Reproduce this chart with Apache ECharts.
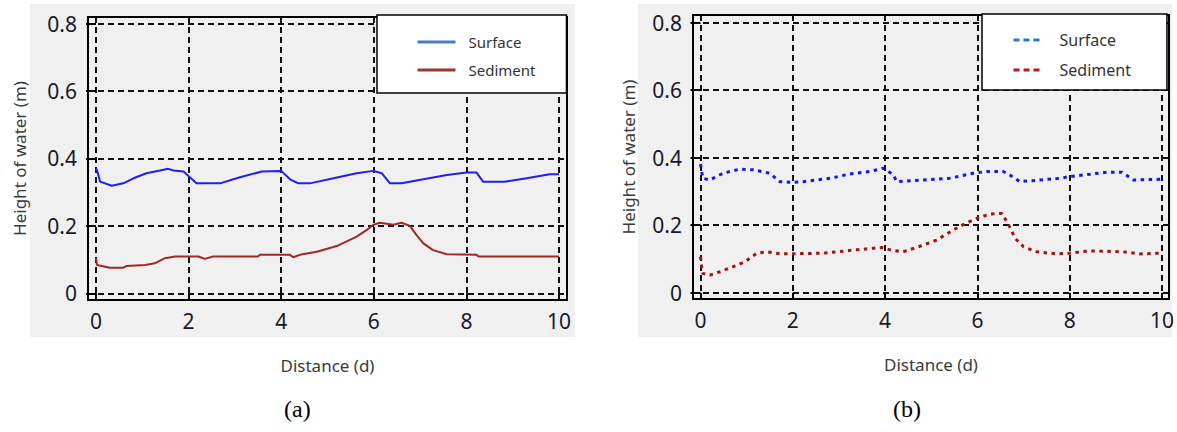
<!DOCTYPE html>
<html>
<head>
<meta charset="utf-8">
<script src="https://cdn.jsdelivr.net/npm/echarts@6/dist/echarts.min.js"></script>
<style>
  html, body { margin: 0; padding: 0; background: #ffffff; }
  #chart { width: 1177px; height: 432px; }
</style>
</head>
<body>
<div id="chart"></div>
<script>
// Tick positions shared by both panels
const xTicks = [0, 2, 4, 6, 8, 10];
const yTicks = [0, 0.2, 0.4, 0.6, 0.8];

// Panel (a): continuous profiles [distance, height]
const surfaceA = [
  [0, 0.371], [0.03, 0.361], [0.09, 0.331], [0.34, 0.319], [0.59, 0.326], [0.81, 0.341],
  [1.09, 0.356], [1.38, 0.364], [1.56, 0.369], [1.67, 0.364], [1.89, 0.361], [2.17, 0.326],
  [2.68, 0.326], [3.11, 0.344], [3.58, 0.361], [4.0, 0.363], [4.19, 0.338], [4.37, 0.326],
  [4.62, 0.326], [5.13, 0.341], [5.63, 0.356], [5.99, 0.363], [6.17, 0.356], [6.35, 0.326],
  [6.6, 0.326], [7.07, 0.338], [7.58, 0.351], [8.0, 0.358], [8.22, 0.358], [8.36, 0.331],
  [8.83, 0.331], [9.3, 0.341], [9.8, 0.353], [10.0, 0.353]
];
const sedimentA = [
  [0, 0.104], [0.02, 0.084], [0.3, 0.076], [0.59, 0.076], [0.66, 0.081], [1.06, 0.084],
  [1.27, 0.089], [1.49, 0.104], [1.71, 0.109], [2.21, 0.109], [2.35, 0.102], [2.53, 0.109],
  [3.5, 0.109], [3.54, 0.114], [4.19, 0.114], [4.26, 0.107], [4.4, 0.114], [4.77, 0.123],
  [5.2, 0.14], [5.63, 0.168], [5.85, 0.188], [5.99, 0.203], [6.13, 0.209], [6.42, 0.203],
  [6.6, 0.209], [6.78, 0.2], [6.92, 0.173], [7.07, 0.148], [7.28, 0.128], [7.58, 0.116],
  [8.22, 0.114], [8.26, 0.109], [10.0, 0.109]
];

// Panel (b): dotted profiles [distance, height]
const surfaceB = [
  [0, 0.381], [0.02, 0.364], [0.05, 0.339], [0.2, 0.334], [0.49, 0.354], [0.85, 0.366],
  [1.14, 0.364], [1.5, 0.354], [1.72, 0.329], [2.0, 0.327], [2.23, 0.329], [2.81, 0.339],
  [3.24, 0.352], [3.67, 0.359], [3.96, 0.369], [4.07, 0.359], [4.18, 0.349], [4.25, 0.329],
  [4.83, 0.334], [5.4, 0.339], [5.91, 0.354], [6.2, 0.359], [6.56, 0.359], [6.7, 0.349],
  [6.92, 0.329], [7.36, 0.334], [7.79, 0.339], [8.0, 0.344], [8.44, 0.351], [8.8, 0.357],
  [9.13, 0.357], [9.38, 0.334], [9.96, 0.336]
];
const sedimentB = [
  [0, 0.107], [0.02, 0.082], [0.05, 0.057], [0.2, 0.052], [0.42, 0.062], [0.71, 0.077],
  [0.97, 0.092], [1.22, 0.117], [1.44, 0.121], [1.72, 0.115], [2.66, 0.117], [3.38, 0.127],
  [3.93, 0.134], [4.11, 0.127], [4.39, 0.121], [4.68, 0.134], [5.12, 0.156], [5.48, 0.186],
  [5.77, 0.207], [5.99, 0.22], [6.27, 0.233], [6.53, 0.235], [6.68, 0.2], [6.82, 0.161],
  [7.0, 0.136], [7.29, 0.121], [7.72, 0.115], [8.0, 0.117], [8.44, 0.124], [9.16, 0.121],
  [9.52, 0.115], [9.96, 0.117]
];

const seriesNames = ['Surface', 'Sediment'];
const panelLabels = ['(a)', '(b)'];
const xName = 'Distance (d)';
const yName = 'Height of water (m)';

const chart = echarts.init(document.getElementById('chart'), null, { renderer: 'svg' });

const gridLine = { show: true, lineStyle: { color: '#111', width: 2, type: [6, 4] } };
const tickFont = { fontFamily: 'Noto Sans', fontSize: 21, color: '#18182a' };
const nameFont = { fontFamily: 'Noto Sans', fontSize: 17, color: '#3a3a3a' };
// legend keys are plain line segments: hide the marker drawn on them
const noMarker = { color: 'rgba(0,0,0,0)', borderWidth: 0, opacity: 0 };

function xAxisFor(gridIndex, min, max) {
  return {
    type: 'value', gridIndex, min, max,
    axisLine: { show: false },
    axisTick: { show: true, customValues: xTicks, length: 6, lineStyle: { color: '#000', width: 2 } },
    axisLabel: Object.assign({ customValues: xTicks, margin: 10 }, tickFont),
    splitLine: gridLine,
    name: xName, nameLocation: 'middle', nameGap: 57, nameTextStyle: nameFont
  };
}
function yAxisFor(gridIndex, min, max, gap) {
  return {
    type: 'value', gridIndex, min, max,
    axisLine: { show: false },
    axisTick: { show: true, customValues: yTicks, length: 10, lineStyle: { color: '#000', width: 2 } },
    axisLabel: Object.assign({ customValues: yTicks, margin: 11 }, tickFont),
    splitLine: gridLine,
    name: yName, nameLocation: 'middle', nameGap: gap, nameTextStyle: nameFont
  };
}

const option = {
  animation: false,
  graphic: [
    { type: 'rect', z: -10, shape: { x: 30, y: 4, width: 545, height: 333 }, style: { fill: '#f0f0f0' } },
    { type: 'rect', z: -10, shape: { x: 638, y: 4, width: 534, height: 333 }, style: { fill: '#f0f0f0' } },
    { type: 'text', left: 284, top: 397, style: { text: panelLabels[0], font: '24px "Liberation Serif"', fill: '#000' } },
    { type: 'text', left: 893, top: 397, style: { text: panelLabels[1], font: '24px "Liberation Serif"', fill: '#000' } }
  ],
  grid: [
    { left: 88, top: 17, width: 479, height: 283, show: true, borderColor: '#000', borderWidth: 2, backgroundColor: 'transparent' },
    { left: 693, top: 15, width: 476, height: 284, show: true, borderColor: '#000', borderWidth: 2, backgroundColor: 'transparent' }
  ],
  xAxis: [xAxisFor(0, -0.173, 10.173), xAxisFor(1, -0.1625, 10.152)],
  yAxis: [yAxisFor(0, -0.0199, 0.8193, 60), yAxisFor(1, -0.0187, 0.8228, 56)],
  legend: [
    {
      left: 377, top: 15, orient: 'vertical',
      backgroundColor: '#ffffff', borderColor: '#000', borderWidth: 1.5,
      padding: [18, 31, 14, 39], itemGap: 10, itemWidth: 38, itemHeight: 14,
      textStyle: { fontFamily: 'Noto Sans', fontSize: 15, color: '#333', lineHeight: 18, padding: [0, 0, 0, 8] },
      data: [
        { name: seriesNames[0], itemStyle: noMarker, lineStyle: { color: '#4a7ec4', width: 3, type: 'solid' } },
        { name: seriesNames[1], itemStyle: noMarker, lineStyle: { color: '#9e3434', width: 3, type: 'solid' } }
      ]
    },
    {
      left: 982, top: 14, orient: 'vertical',
      backgroundColor: '#ffffff', borderColor: '#000', borderWidth: 1.5,
      padding: [17, 36, 11, 30], itemGap: 12, itemWidth: 30, itemHeight: 14,
      textStyle: { fontFamily: 'Noto Sans', fontSize: 16, color: '#333', lineHeight: 18, padding: [0, 0, 0, 11] },
      data: [
        { name: seriesNames[0], itemStyle: noMarker, lineStyle: { color: '#1a7fd4', width: 3, type: [6, 4] } },
        { name: seriesNames[1], itemStyle: noMarker, lineStyle: { color: '#c81414', width: 3, type: [6, 4] } }
      ]
    }
  ],
  series: [
    { name: seriesNames[0], type: 'line', xAxisIndex: 0, yAxisIndex: 0, data: surfaceA, symbol: 'none',
      lineStyle: { color: '#1f1ff5', width: 2 }, itemStyle: { color: '#1f1ff5' } },
    { name: seriesNames[1], type: 'line', xAxisIndex: 0, yAxisIndex: 0, data: sedimentA, symbol: 'none',
      lineStyle: { color: '#a02828', width: 2 }, itemStyle: { color: '#a02828' } },
    { name: seriesNames[0], type: 'line', xAxisIndex: 1, yAxisIndex: 1, data: surfaceB, symbol: 'none',
      lineStyle: { color: '#1414f5', width: 3, type: [3.5, 4.5] }, itemStyle: { color: '#1414f5' } },
    { name: seriesNames[1], type: 'line', xAxisIndex: 1, yAxisIndex: 1, data: sedimentB, symbol: 'none',
      lineStyle: { color: '#a31515', width: 3, type: [3.5, 4.5] }, itemStyle: { color: '#a31515' } }
  ]
};

chart.setOption(option);
</script>
</body>
</html>
